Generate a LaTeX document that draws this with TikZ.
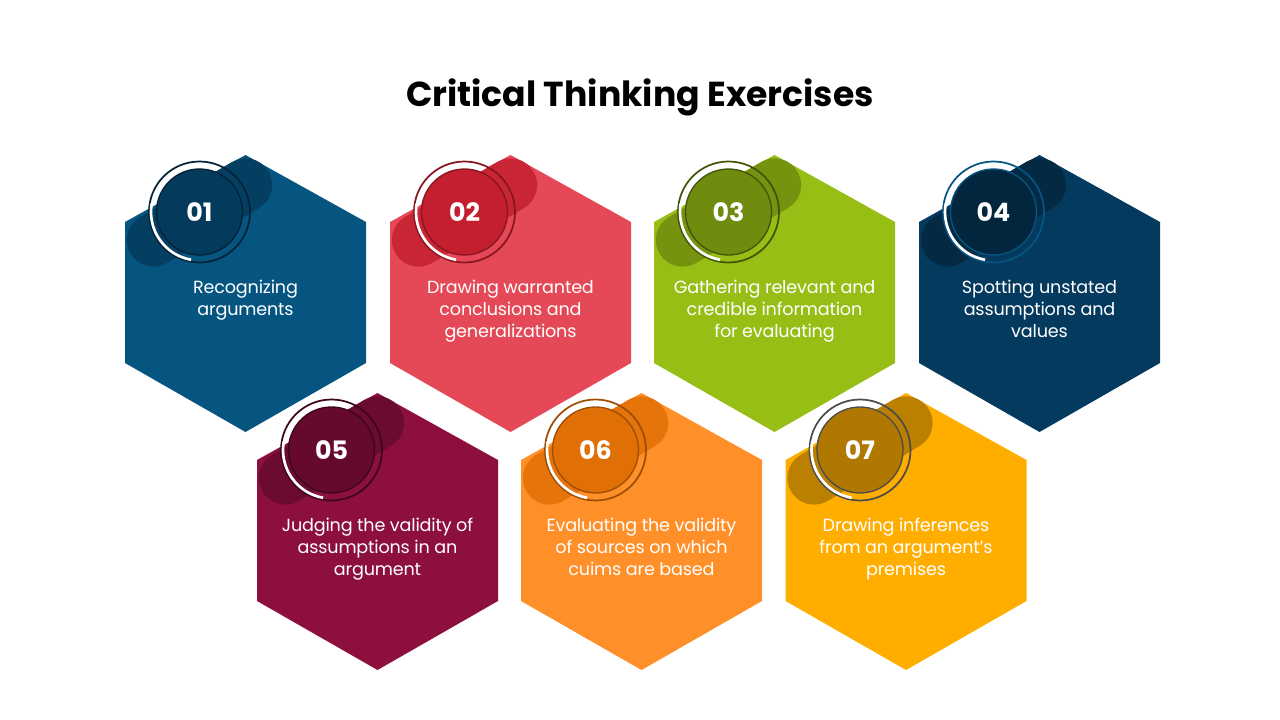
\documentclass[tikz,border=0pt]{standalone}
\usepackage{fontspec}
\setmainfont{Poppins}
\begin{document}
\begin{tikzpicture}[x=0.75pt,y=-0.75pt]
\useasboundingbox (0,0) rectangle (1280,720);
\tikzset{txt/.style={text=white,font=\fontsize{13.2pt}{16.5pt}\selectfont\addfontfeatures{LetterSpace=-1},align=center,anchor=north,inner sep=0pt},
num/.style={text=white,font=\fontsize{19pt}{22pt}\selectfont\bfseries}}
\node[font=\fontsize{26pt}{30pt}\selectfont\bfseries] (title) at (640,97) {Critical Thinking Exercises};
\newcommand\hexitem[7]{% x y hexcol circcol ringcol num text
\fill[#3] (#1,#2-138) -- (#1+120.5,#2-71) -- (#1+120.5,#2+70) -- (#1,#2+139) -- (#1-120.5,#2+70) -- (#1-120.5,#2-71) -- cycle;
\node[txt] (t#6) at (#1,#2-13) {#7};
\draw[#4!85!#3,line width=40pt,line cap=round] (#1-46-46,#2-81+28) -- (#1-46+46,#2-81-27);
\draw[#5,line width=1.3pt] (#1-46,#2-81) circle[radius=50.5];
\draw[white,line width=2pt] (#1-46,#2-81) ++(100:48.5) arc[start angle=100,end angle=190,radius=48.5];
\fill[#4] (#1-46,#2-81) circle[radius=43];
\draw[#5,line width=1pt] (#1-46,#2-81) circle[radius=43];
\node[num] (n#6) at (#1-46,#2-81) {#6};
}
\definecolor{h1}{HTML}{065581}\definecolor{c1}{HTML}{043B5C}
\definecolor{h2}{HTML}{E54856}\definecolor{c2}{HTML}{C31F2F}
\definecolor{h3}{HTML}{96BE14}\definecolor{c3}{HTML}{6F8C0E}
\definecolor{h4}{HTML}{053A5F}\definecolor{c4}{HTML}{02263E}
\definecolor{h5}{HTML}{8C0F3E}\definecolor{c5}{HTML}{650A2D}
\definecolor{h6}{HTML}{FF9029}\definecolor{c6}{HTML}{E06F05}
\definecolor{h7}{HTML}{FFAE00}\definecolor{c7}{HTML}{B07800}
\hexitem{245.5}{293}{h1}{c1}{c1!60!black}{01}{Recognizing\\arguments}
\hexitem{510.5}{293}{h2}{c2}{c2!70!black}{02}{Drawing warranted\\conclusions and\\generalizations}
\hexitem{774.5}{293}{h3}{c3}{c3!60!black}{03}{Gathering relevant and\\credible information\\for evaluating}
\hexitem{1039.5}{293}{h4}{c4}{h1}{04}{Spotting unstated\\assumptions and\\values}
\hexitem{377.5}{531}{h5}{c5}{c5!60!black}{05}{Judging the validity of\\assumptions in an\\argument}
\hexitem{641.5}{531}{h6}{c6}{c6!70!black}{06}{Evaluating the validity\\of sources on which\\cuims are based}
\hexitem{906}{531}{h7}{c7}{black!70}{07}{Drawing inferences\\from an argument's\\premises}
\end{tikzpicture}
\end{document}
